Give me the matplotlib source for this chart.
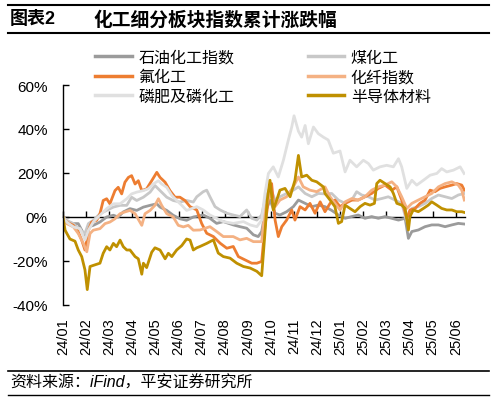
import matplotlib.pyplot as plt
from matplotlib.lines import Line2D

plt.rcParams['font.family'] = ['Liberation Sans', 'Noto Sans CJK SC']
plt.rcParams['axes.unicode_minus'] = False

# x 轴：自 2024-01 起的月份位置
months = ['24/01', '24/02', '24/03', '24/04', '24/05', '24/06', '24/07', '24/08', '24/09',
          '24/10', '24/11', '24/12', '25/01', '25/02', '25/03', '25/04', '25/05', '25/06']
yticks = [-40, -20, 0, 20, 40, 60]

# 石油化工指数
t_oil = [0.00, 0.16, 0.45, 0.66, 0.81, 0.95, 1.10, 1.31, 1.60, 1.89, 2.18, 2.39, 2.61, 2.90, 3.19, 3.48,
         3.77, 4.06, 4.20, 4.49, 4.77, 5.06, 5.35, 5.64, 6.07, 6.36, 6.65, 6.94, 7.37, 7.66, 7.95, 8.24,
         8.45, 8.60, 8.74, 8.96, 9.18, 9.39, 9.68, 9.97, 10.19, 10.48, 10.77, 11.05, 11.34, 11.63, 11.92,
         12.21, 12.50, 12.78, 13.07, 13.36, 13.65, 13.94, 14.23, 14.52, 14.81, 14.95, 15.10, 15.38, 15.67,
         15.96, 16.25, 16.54, 16.83, 17.11, 17.37]
v_oil = [0, -2.3, -3, -3, -6, -9, -4.5, -3.8, -2.3, 0, 0.8, 0, 2.3, 3.8, 3, 4.5,
         5.3, 6, 4.5, 3, 0.8, -0.8, -1.5, 0, 0.9, -0.6, -2.9, -2.1, -3.6, -4.4, -5.1, -8.1,
         -8.9, -6.6, 1.7, 7.7, 1.7, 0.9, 2.4, 4.7, 7.7, 6.2, 4.7, 5.4, 4.7, 3.0, 0.9,
         -0.6, 0.2, 0.9, -0.6, 0.2, -0.6, 0.2, -0.6, -1.4, -0.6, -9.7, -6.6, -5.9, -4.4,
         -3.6, -3.6, -4.4, -3.6, -2.9, -3.2]

# 煤化工
t_coal = [0.00, 0.16, 0.45, 0.74, 0.95, 1.10, 1.31, 1.60, 1.89, 2.18, 2.47, 2.76, 2.97, 3.19, 3.48, 3.77,
          3.98, 4.20, 4.49, 4.77, 5.06, 5.35, 5.64, 5.79, 6.07, 6.22, 6.36, 6.58, 6.80, 7.09, 7.37, 7.66,
          7.95, 8.17, 8.39, 8.60, 8.74, 8.96, 9.18, 9.39, 9.68, 9.97, 10.19, 10.48, 10.77, 11.05, 11.34,
          11.63, 11.92, 12.21, 12.50, 12.71, 12.93, 13.22, 13.51, 13.80, 14.08, 14.37, 14.66, 14.88,
          15.10, 15.38, 15.67, 15.96, 16.25, 16.54, 16.83, 17.11, 17.37]
v_coal = [0, -1.5, -3, -6, -7.5, -3, -1.5, 1.5, 3, 4.5, 5.3, 5.3, 9, 7.5, 9, 11.3,
          14.3, 12, 9, 7.5, 6.8, 7.5, 6.8, 9.2, 11.5, 12.2, 9.2, 4.7, 3.2, 1.7, 0.9, 0.2,
          3.2, -0.6, -1.4, 0.9, 7.7, 13.7, 7.7, 9.2, 10.7, 12.2, 13.7, 10.7, 9.2, 10.7, 10.5,
          10.7, 7.7, 6.2, 7.7, 11.5, 10, 9.2, 7.7, 8.4, 9.2, 7.7, 6.2, -2.1,
          3.9, 4.7, 6.2, 8.4, 10, 9.2, 8.4, 10, 10.7]

# 氟化工
t_fluo = [0.00, 0.16, 0.45, 0.66, 0.81, 0.95, 1.10, 1.24, 1.46, 1.60, 1.74, 1.89, 2.03, 2.25, 2.39, 2.54,
          2.68, 2.83, 2.97, 3.12, 3.26, 3.41, 3.62, 3.84, 4.06, 4.20, 4.42, 4.63, 4.85, 5.06, 5.28, 5.50,
          5.79, 6.00, 6.22, 6.51, 6.80, 7.09, 7.37, 7.59, 7.88, 8.17, 8.39, 8.60, 8.74, 8.89, 9.03, 9.18,
          9.32, 9.47, 9.68, 9.90, 10.04, 10.26, 10.48, 10.69, 10.91, 11.13, 11.34, 11.56, 11.77, 11.99,
          12.21, 12.50, 12.78, 13.07, 13.36, 13.65, 13.94, 14.23, 14.45, 14.66, 14.88, 15.02, 15.24,
          15.45, 15.67, 15.89, 16.10, 16.32, 16.54, 16.83, 17.04, 17.26, 17.37]
v_fluo = [0, -2.3, -3.8, -6.8, -10.5, -15, -6, -2.3, -1.5, 1.5, 7.5, 8.3, 6, 12, 13.5, 10.5,
          15.8, 18, 18.8, 15, 16.5, 12, 12.8, 16.5, 20.3, 18, 15.8, 12, 9, 9, 7.5, 4.7,
          3.2, -2.9, -7.4, -8.9, -11.9, -14.2, -13.4, -18, -19.5, -21, -21, -20.2, -4.4, 7.7, 15.2, -1.4,
          -8.9, -4.4, -1.4, 3.2, -1.4, 4.7, 3.2, 6.2, 1.7, 6.9, 2.4, 6.2, 7.7, 4.7,
          6.2, 7.7, 7.7, 9.2, 10.7, 13, 14.5, 12.2, 13.7, 7.7, -0.6, 3.2, 3.9,
          6.2, 7.7, 12.2, 11.5, 13, 13.7, 14.5, 15.2, 14.5, 12.2]

# 化纤指数
t_fiber = [0.00, 0.16, 0.45, 0.66, 0.88, 1.03, 1.17, 1.31, 1.60, 1.82, 2.03, 2.25, 2.47, 2.68, 2.90, 3.12,
           3.41, 3.55, 3.77, 3.98, 4.13, 4.27, 4.49, 4.77, 4.99, 5.21, 5.42, 5.64, 5.93, 6.36, 6.65, 6.94,
           7.37, 7.66, 7.95, 8.24, 8.60, 8.74, 8.96, 9.18, 9.39, 9.68, 9.97, 10.19, 10.40, 10.69, 10.98,
           11.34, 11.56, 11.77, 11.99, 12.21, 12.50, 12.78, 13.07, 13.36, 13.65, 13.94, 14.23, 14.45,
           14.66, 14.88, 15.10, 15.38, 15.67, 15.96, 16.25, 16.54, 16.83, 17.11, 17.26, 17.37]
v_fiber = [0, -3, -4.5, -7.5, -12, -15.8, -7.5, -6, -5.3, -3, -2.3, -0.8, 1.5, 2.3, 3, 1.5,
           -3.8, 1.5, 3, 5.3, 8.3, 5.3, 1.5, 0, -3.8, -4.5, -3.8, -6, -5.9, -4.4, -6.6, -8.9,
           -8.9, -10.4, -9.7, -11.2, -11.2, 3.2, 10.7, 4.7, 7.7, 9.2, 13.7, 18.2, 13.7, 12.2, 11.5,
           13.7, 9.2, 6.2, 3.2, 6.9, 8.4, 7.7, 9.2, 12.2, 13.7, 14.5, 16, 13.7,
           9.2, 3.9, 6.2, 7.7, 9.2, 10.7, 13.7, 15.2, 16, 14.5, 12.2, 7.7]

# 磷肥及磷化工
t_phos = [0.00, 0.16, 0.45, 0.74, 0.95, 1.10, 1.31, 1.60, 1.89, 2.18, 2.47, 2.76, 2.97, 3.19, 3.48, 3.69,
          3.91, 4.13, 4.27, 4.49, 4.71, 4.92, 5.14, 5.35, 5.57, 5.79, 6.07, 6.36, 6.65, 6.94, 7.37, 7.81,
          8.10, 8.39, 8.60, 8.74, 8.89, 9.10, 9.32, 9.54, 9.75, 9.90, 10.00, 10.19, 10.33, 10.48, 10.62,
          10.84, 11.05, 11.27, 11.48, 11.70, 11.99, 12.21, 12.42, 12.71, 13.00, 13.22, 13.43, 13.72,
          14.01, 14.30, 14.52, 14.66, 14.88, 15.10, 15.31, 15.60, 15.89, 16.18, 16.39, 16.61, 16.90,
          17.19, 17.36]
v_phos = [0, -2.3, -4.5, -5.3, -10.5, -6, -2.3, 0.8, 3.8, 6, 6, 8.3, 10.5, 11.3, 12, 12.8,
          15, 16.5, 15, 13.5, 9.8, 7.5, 5.3, 3, 3.8, 4.7, 3.2, 0.9, -0.6, -2.1, -2.9, -2.1,
          -3.6, -4.4, -1.4, 10.7, 19.8, 22.8, 18.2, 25.8, 34.8, 40.9, 46, 39, 36.3, 41.6, 33.3,
          40.9, 37.9, 36.3, 35, 29, 30, 20.5, 25.8, 22.8, 25.8, 24.3, 21.3, 22.8,
          23.5, 22.8, 26.5, 22.8, 13, 16.7, 14.5, 16.7, 19, 19.8, 22, 20.5, 21.3,
          22.8, 19.8]

# 半导体材料
t_semi = [0.00, 0.09, 0.30, 0.52, 0.66, 0.81, 0.95, 1.05, 1.17, 1.31, 1.60, 1.74, 1.89, 2.03, 2.18, 2.32,
          2.47, 2.61, 2.76, 2.90, 3.12, 3.26, 3.41, 3.48, 3.62, 3.84, 3.98, 4.20, 4.42, 4.56, 4.71, 4.92,
          5.14, 5.35, 5.50, 5.64, 5.79, 5.93, 6.22, 6.51, 6.72, 6.94, 7.23, 7.52, 7.81, 8.10, 8.39, 8.60,
          8.74, 8.84, 8.96, 9.10, 9.25, 9.39, 9.61, 9.83, 10.04, 10.19, 10.33, 10.55, 10.77, 10.98, 11.27,
          11.34, 11.56, 11.77, 11.92, 12.06, 12.21, 12.42, 12.64, 12.86, 13.07, 13.29, 13.48, 13.58,
          13.72, 13.94, 14.16, 14.30, 14.45, 14.66, 14.81, 14.95, 15.02, 15.16, 15.38, 15.60, 15.81,
          15.96, 16.18, 16.39, 16.61, 16.83, 17.04, 17.26, 17.40]
v_semi = [0, -6, -10, -11, -15, -18, -24, -33, -22.5, -22, -21, -16.5, -13.5, -15, -12, -13.5,
          -10.5, -13.5, -15, -15, -18, -19, -26, -21, -23, -16, -14, -15, -19, -16.5, -18, -15,
          -13, -10, -10.5, -15, -14, -13.4, -12, -10.4, -16.4, -18, -18.7, -21, -22.5, -23.2, -24.7, -26.7,
          -7.4, 7.7, 16.7, 3.2, 7.7, 12.2, 13, 9.2, 16.7, 28, 18.2, 19, 16.7, 16, 13.7,
          10.7, 7.7, 4.7, -2.9, -2.1, 5.4, 3.9, 2.4, 4.7, 6.2, 5.4, 6.2, 15.2,
          16.7, 15.2, 13.7, 10.7, 6.2, 5.4, 3.9, -5.9, 0.2, 3.2, 2.4, 3.9, 5.4,
          6.9, 5.4, 3.9, 3.2, 3.2, 2.4, 2.4, 2.0]

series = [
    ('石油化工指数', t_oil, v_oil, '#9b9b9b'),
    ('煤化工', t_coal, v_coal, '#c8c8c8'),
    ('氟化工', t_fluo, v_fluo, '#ed7d31'),
    ('化纤指数', t_fiber, v_fiber, '#f4b183'),
    ('磷肥及磷化工', t_phos, v_phos, '#e0e0e0'),
    ('半导体材料', t_semi, v_semi, '#bf9000'),
]

fig = plt.figure(figsize=(4.95, 4.02), dpi=100)
ax = fig.add_axes([63 / 495, 1 - 306 / 402, (465 - 63) / 495, (306 - 86) / 402])

handles = {}
for name, t, v, c in series:
    ln, = ax.plot(t, v, color=c, lw=2.0, solid_joinstyle='round')
    handles[name] = ln

ax.set_xlim(0, 17.4)
ax.set_ylim(-40, 60)
ax.set_yticks(yticks)
ax.set_yticklabels([f'{y}%' for y in yticks], fontsize=11)
ax.set_xticks(range(len(months)))
ax.set_xticklabels(months, rotation=90, fontsize=10.5)
ax.tick_params(axis='x', length=0, pad=9)
ax.tick_params(axis='y', direction='in', length=4, width=1, pad=11)
for s in ['top', 'right', 'bottom']:
    ax.spines[s].set_visible(False)
ax.spines['left'].set_linewidth(1)

# 零轴及刻度
sec = ax.secondary_xaxis(0.4)
sec.set_xticks(range(len(months)))
sec.tick_params(direction='in', length=4, width=1, labelbottom=False)
sec.spines['bottom'].set_linewidth(1)

order = ['石油化工指数', '氟化工', '磷肥及磷化工', '煤化工', '化纤指数', '半导体材料']
leg_handles = [Line2D([], [], color=handles[n].get_color(), lw=2.5) for n in order]
fig.legend(leg_handles, order, loc='upper left', bbox_to_anchor=(95 / 495, 1 - 51 / 402),
           ncol=2, frameon=False, fontsize=11.5, handlelength=2.3, handletextpad=0.4,
           columnspacing=4.6, labelspacing=0.28, borderpad=0, borderaxespad=0)

# 标题与来源
fig.text(10 / 495, 1 - 20 / 402, '图表2', fontsize=13, fontweight='bold', va='center')
fig.text(93 / 495, 1 - 20 / 402, '化工细分板块指数累计涨跌幅', fontsize=13.5, fontweight='bold', va='center')
fig.text(10 / 495, 1 - 383 / 402, '资料来源：iFind，平安证券研究所', fontsize=11.5, style='italic', va='center')
for yy, lw in [(6, 1.5), (34, 1.5), (372, 1.2), (396, 1.0)]:
    fig.add_artist(Line2D([8 / 495, 489 / 495], [1 - yy / 402, 1 - yy / 402], color='black', lw=lw))

fig.savefig('out.png', dpi=100)
